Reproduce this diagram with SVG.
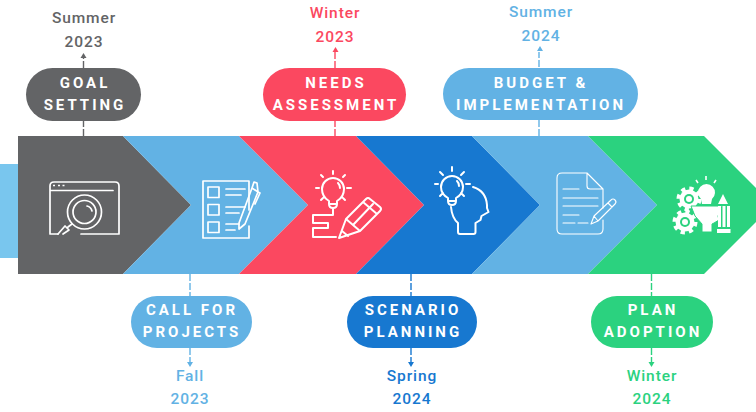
<svg xmlns="http://www.w3.org/2000/svg" width="756" height="412" viewBox="0 0 756 412">
<style>
.pill{font-family:Roboto,"Liberation Sans",sans-serif;font-size:15px;font-weight:700;letter-spacing:3px;fill:#fff;text-anchor:middle}
.date{font-family:Roboto,"Liberation Sans",sans-serif;font-size:15.5px;font-weight:500;letter-spacing:.9px;text-anchor:middle}
.ic{fill:none;stroke:#fff;stroke-width:1.7;stroke-linecap:round;stroke-linejoin:round}
.ln{fill:none;stroke-width:1.4;stroke-dasharray:7 2}
.gray{fill:#636466}.lb{fill:#62b2e4}.red{fill:#fb4860}.db{fill:#1778d0}.gr{fill:#2bd27f}
.sgray{stroke:#636466}.slb{stroke:#62b2e4}.sred{stroke:#fb4860}.sdb{stroke:#1778d0}.sgr{stroke:#2bd27f}
</style>
<rect width="756" height="412" fill="#fff"/>
<rect x="0" y="164" width="18" height="94" fill="#79c6ee"/>
<g id="connectors">
<path class="ln sgray" d="M83.500 136V121M83.500 68V57"/><path class="gray" d="M83.500 53l3 5h-6z"/>
<path class="ln slb" d="M190 274V296M190 348V363"/><path class="lb" d="M190 367l-3-5h6z"/>
<path class="ln sred" d="M335 136V121M335 68V52"/><path class="red" d="M335.500 47l3 5h-6z"/>
<path class="ln sdb" d="M411 274V296M411 348V363"/><path class="db" d="M411 367l-3-5h6z"/>
<path class="ln slb" d="M539 136V120M539 67V52"/><path class="lb" d="M540 46l3 5h-6z"/>
<path class="ln sgr" d="M651.500 274V296M651.500 348V363"/><path class="gr" d="M651.500 367l-3-5h6z"/>
</g>
<g id="node-goal-setting">
<path class="gray" d="M18 136H123L191 205L123 274H18Z"/>
<rect class="gray" x="26" y="68" width="115" height="53" rx="26.500"/>
<text class="pill" x="85" y="88">GOAL</text><text class="pill" x="85" y="110">SETTING</text>
<text class="date" x="84" y="23" fill="#636466">Summer</text><text class="date" x="84" y="47" fill="#636466">2023</text>
<g class="ic"><path d="M50 234V186q0-4 4-4h61q4 0 4 4v48H81M50 234H58M50 190.500H113"/><circle cx="84.500" cy="212" r="17"/><circle cx="84.500" cy="212" r="11.500"/><path d="M87 206q4 1 5 5M72 224l-4 3M58 234l7-8 4 4-6 4"/></g>
<path d="M53 185.500h2M58 185.500h2M62.500 185.500h2" stroke="#fff" stroke-width="1.700"/>
</g>
<g id="node-call-for-projects">
<path class="lb" d="M123 136H239L308 205L239 274H123L191 205Z"/>
<rect class="lb" x="131" y="296" width="121" height="52" rx="26"/>
<text class="pill" x="192" y="315">CALL FOR</text><text class="pill" x="192" y="337">PROJECTS</text>
<text class="date" x="190" y="381" fill="#62b2e4">Fall</text><text class="date" x="190" y="404" fill="#62b2e4">2023</text>
<g class="ic"><path d="M249 210V181H203V238H249V226"/><rect x="208" y="187" width="11" height="10.500"/><rect x="208" y="204.500" width="11" height="10.500"/><rect x="208" y="222" width="11" height="10.500"/><path d="M226 189H245M226 195H241M226 207H245M226 213H239M226 224H239M226 230H235"/><path d="M239 229V223L252 188 258 192 245 224ZM252 188L254 182 257 183 258 192M258 192L260 193 255 204"/></g>
</g>
<g id="node-needs-assessment">
<path class="red" d="M239 136H356L424 205L356 274H239L308 205Z"/>
<rect class="red" x="263" y="68" width="143" height="53" rx="26.500"/>
<text class="pill" x="336" y="88">NEEDS</text><text class="pill" x="336" y="110">ASSESSMENT</text>
<text class="date" x="335" y="18" fill="#fb4860">Winter</text><text class="date" x="335" y="42" fill="#fb4860">2023</text>
<g class="ic" style="stroke-width:2"><path d="M329 204v-3q-7-4-7-12a11 11 0 0 1 22 0q0 8-7 12v3zM329 204q0 4 4 4 4 0 4-4M338 183q2 2 2 5M333 171v3M321 175l2 2M345 175l-2 2M316 188h3M347 188h4M321 200l2-2M345 200l-2-2"/><path d="M333 209v6H313v8h15v5H313v9h23"/><path d="M339 238L346 219 366 199q2-2 4 0L380 207q2 2 0 4L360 231ZM346 219L360 231M353 225L373 204M363 202L377 214M342 231L348 236"/></g>
</g>
<g id="node-scenario-planning">
<path class="db" d="M356 136H472L540 205L472 274H356L424 205Z"/>
<rect class="db" x="347" y="296" width="130" height="52" rx="26"/>
<text class="pill" x="413" y="315">SCENARIO</text><text class="pill" x="413" y="337">PLANNING</text>
<text class="date" x="412" y="381" fill="#1778d0">Spring</text><text class="date" x="412" y="404" fill="#1778d0">2024</text>
<g class="ic" style="stroke-width:2"><path d="M448 201v-3q-7-4-7-11a11 11 0 0 1 22 0q0 7-7 11v3zM448 201q0 4 4 4 4 0 4-4M457 181q2 2 2 5M452 167v4M440 172l3 3M464 172l-3 3M435 184h3M466 184h4M440 196l3-3M464 196l-3-3"/><path d="M473 187q13 4 14 18v3l1.500 4-7 4-1 4-5 3v9q0 2-2 2H460q-2 0-2-2v-9q-6-5-7-16"/></g>
</g>
<g id="node-budget-implementation">
<path class="lb" d="M472 136H588L657 205L588 274H472L540 205Z"/>
<rect class="lb" x="443" y="68" width="195" height="52" rx="26"/>
<text class="pill" x="541" y="88">BUDGET &amp;</text><text class="pill" x="541" y="110">IMPLEMENTATION</text>
<text class="date" x="541" y="17" fill="#62b2e4">Summer</text><text class="date" x="541" y="41" fill="#62b2e4">2024</text>
<g class="ic" style="stroke-width:1.100"><path d="M587 173H562q-5 0-5 5v51q0 5 5 5h36q5 0 5-5V220M603 208V189L587 173V186q0 3 3 3h13"/><path d="M563 189H579M563 198H598M563 206H598M563 215H579M563 223H575M578 223H588"/><path d="M591 224l3-8 17-16q2-2 4-0 2 2 0 4l-17 17zM594 216l4 5M608 203l4 4"/></g>
</g>
<g id="node-plan-adoption">
<path class="gr" d="M588 136H704L773 205L704 274H588L657 205Z"/>
<rect class="gr" x="591" y="296" width="122" height="52" rx="26"/>
<text class="pill" x="653" y="315">PLAN</text><text class="pill" x="653" y="337">ADOPTION</text>
<text class="date" x="652" y="381" fill="#2bd27f">Winter</text><text class="date" x="652" y="404" fill="#2bd27f">2024</text>
<g fill="#fff">
<circle cx="689" cy="199" r="9.500"/><circle cx="689" cy="199" r="10.500" fill="none" stroke="#fff" stroke-width="4" stroke-dasharray="4.200 4.050"/><circle cx="689" cy="199" r="5" fill="#2bd27f"/><circle cx="689" cy="199" r="3"/>
<circle cx="685" cy="222" r="9.500"/><circle cx="685" cy="222" r="10.500" fill="none" stroke="#fff" stroke-width="4" stroke-dasharray="4.200 4.050"/><circle cx="685" cy="222" r="5" fill="#2bd27f"/><circle cx="685" cy="222" r="3"/>
<path d="M701 199a8.500 8.500 0 1 1 11 0l-1 5h-9z"/>
<path d="M691 206H722l-2 6-2 4 1 4-5 3-2 1v8H702v-8l-7-8z" stroke="#2bd27f" stroke-width="1"/>
<path d="M723 194l5 10h-10zM718 206h3v21h-3zM722.500 206h3v21h-3zM727 206h3v21h-3zM717 229h13.500v4h-13.500z"/>
<path d="M696 180l2 3M706 176v4M716 180l-2 3" stroke="#fff" stroke-width="1.600" fill="none"/>
</g>
</g>
</svg>
